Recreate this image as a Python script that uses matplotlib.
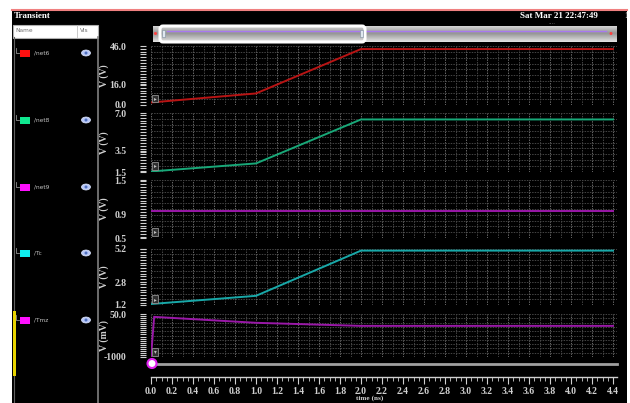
import numpy as np
import matplotlib
matplotlib.use("Agg")
import matplotlib.pyplot as plt
from matplotlib.patches import Rectangle, Ellipse, FancyBboxPatch, Circle
from matplotlib.ticker import MultipleLocator, FixedLocator, FixedFormatter

# ---------------- data ----------------
time_ns = [0.0, 1.0, 2.0, 4.4]
net6 = [1.6, 8.7, 43.6, 43.6]
net8 = [1.55, 2.3, 6.4, 6.4]
net9 = [0.97, 0.97, 0.97, 0.97]
tc = [1.27, 1.85, 5.05, 5.05]
tmz_time = [0.0, 0.03, 1.0, 2.0, 4.4]
tmz = [-1000, -20, -165, -240, -240]

signal_names = ["/net6", "/net8", "/net9", "/Tc", "/Tmz"]
legend_colors = ["#ff1010", "#10e890", "#ff10ff", "#10f0f0", "#ff10ff"]
line_colors = ["#b81414", "#18a878", "#9a18a8", "#18a8a8", "#9a18a8"]
y_units = ["V (V)", "V (V)", "V (V)", "V (V)", "V (mV)"]
y_limits = [(0.0, 46.0), (1.5, 7.0), (0.5, 1.5), (1.2, 5.2), (-1000.0, 50.0)]
y_ticks = [[0.0, 16.0, 46.0], [1.5, 3.5, 7.0], [0.5, 0.9, 1.5], [1.2, 2.8, 5.2], [-1000.0, 50.0]]
y_ticklabels = [["0.0", "16.0", "46.0"], ["1.5", "3.5", "7.0"], ["0.5", "0.9", "1.5"],
                ["1.2", "2.8", "5.2"], ["-1000", "50.0"]]
x_ticks = [round(0.2 * i, 1) for i in range(23)]
x_ticklabels = ["%.1f" % v for v in x_ticks]
series_x = [time_ns, time_ns, time_ns, time_ns, tmz_time]
series_y = [net6, net8, net9, tc, tmz]

W, H = 630, 403
fig = plt.figure(figsize=(W / 100, H / 100), dpi=100, facecolor="white")

SERIF = ["Liberation Serif", "DejaVu Serif"]
TXT = "#d0d0d0"

# background axes in pixel coordinates
bg = fig.add_axes([0, 0, 1, 1])
bg.set_xlim(0, W)
bg.set_ylim(H, 0)
bg.axis("off")

bg.add_patch(Rectangle((12, 10), 615, 393, facecolor="black", edgecolor="none"))
bg.plot([12, 627], [9.5, 9.5], color="#f08080", lw=1.5)
bg.text(14, 16.5, "Transient", color="white", fontsize=6.5, fontweight="bold",
        family=SERIF, va="center", ha="left")
bg.text(520, 16.5, "Sat Mar 21 22:47:49", color="white", fontsize=6.5, fontweight="bold",
        family=SERIF, va="center", ha="left")
bg.text(548, 22.5, "....", color="#909090", fontsize=4, va="center", ha="left")
bg.text(624, 16.5, "1", color="white", fontsize=6.5, fontweight="bold",
        family=SERIF, va="center", ha="left")

# legend panel
bg.add_patch(Rectangle((13, 24.5), 85, 13, facecolor="white", edgecolor="#b0b0b0", lw=0.8))
bg.plot([77, 77], [25, 37], color="#c0c0c0", lw=0.6)
bg.text(15, 31, "Name", color="#707070", fontsize=4.2, va="center", ha="left")
bg.text(80, 31, "Vis", color="#707070", fontsize=4.2, va="center", ha="left")
bg.plot([13.5, 13.5], [37, 403], color="#606060", lw=0.8)
bg.plot([98, 98], [37, 403], color="#808080", lw=1.2)
bg.add_patch(Rectangle((12.5, 311), 3, 65, facecolor="#e8d400", edgecolor="none", zorder=5))

legend_rows = [53, 120, 187, 253, 320]
for name, col, yy in zip(signal_names, legend_colors, legend_rows):
    bg.plot([16, 16, 19], [yy - 5, yy, yy], color="#909090", lw=0.6)
    bg.add_patch(Rectangle((20, yy - 3.5), 10, 7, facecolor=col, edgecolor="none"))
    bg.text(34, yy, name, color="#c0c0c0", fontsize=4.2, va="center", ha="left")
    bg.add_patch(Ellipse((86, yy), 9, 6, facecolor="#b8c8f8", edgecolor="#e0e8ff", lw=0.5))
    bg.add_patch(Ellipse((86, yy), 3, 3, facecolor="#5070c0", edgecolor="none"))

# top scrollbar
grad = np.linspace(0, 1, 32)
shade = np.clip(0.58 + 0.35 * np.abs(grad - 0.45) * 1.6, 0, 1)
img = np.repeat(shade[:, None], 2, axis=1)
bg.imshow(img, cmap="gray", vmin=0, vmax=1, extent=[153, 617, 42, 26],
          aspect="auto", zorder=1, interpolation="bilinear")
bg.add_patch(FancyBboxPatch((160, 26), 205, 16, boxstyle="round,pad=0,rounding_size=3",
                            facecolor="none", edgecolor="white", lw=2.2, zorder=3))
bg.plot([167, 606], [30.5, 30.5], color="#a878f0", lw=1.0, zorder=2)
bg.add_patch(Circle((155.5, 33.5), 1.5, facecolor="#ff4040", edgecolor="none", zorder=4))
bg.add_patch(Circle((611, 33.5), 1.5, facecolor="#ff4040", edgecolor="none", zorder=4))
bg.add_patch(Rectangle((162, 30), 2.5, 7, facecolor="#e0e8f0", edgecolor="#8090a0", lw=0.4, zorder=4))
bg.add_patch(Rectangle((360, 30), 2.5, 7, facecolor="#e0e8f0", edgecolor="#8090a0", lw=0.4, zorder=4))

# bottom scroll line with circle marker
bg.plot([152, 617], [363.5, 363.5], color="#a0a0a0", lw=2.0)
bg.add_patch(Circle((152, 363.5), 4.5, facecolor="white", edgecolor="#e020f0", lw=1.5, zorder=6))
bg.text(370, 398.5, "time (ns)", color=TXT, fontsize=5.2, fontweight="bold",
        family=SERIF, va="center", ha="center")


def rect(x0, y0, x1, y1):
    return [x0 / W, 1 - y1 / H, (x1 - x0) / W, (y1 - y0) / H]


panel_px = [(46, 104.5), (113, 172), (180, 238), (248.5, 305), (314, 357)]
XMAX = (617 - 151) / 105.0

for i in range(5):
    y0, y1 = panel_px[i]
    ax = fig.add_axes(rect(151, y0, 617, y1))
    ax.set_facecolor("black")
    lo, hi = y_limits[i]
    ax.set_xlim(0, XMAX)
    ax.set_ylim(lo, hi)
    # grid
    for xv in np.arange(0, XMAX, 0.1):
        major = abs((xv / 0.2) - round(xv / 0.2)) < 1e-6
        ax.axvline(xv, color="#686868" if major else "#454545", lw=0.7,
                   ls=(0, (1.5, 1.2)), zorder=1)
    for yv in np.linspace(lo, hi, 11):
        ax.axhline(yv, color="#454545", lw=0.7, ls=(0, (1.5, 1.2)), zorder=1)
    ax.plot(series_x[i], series_y[i], color=line_colors[i], lw=1.4, zorder=3,
            solid_joinstyle="miter")
    for s in ["top", "right", "bottom"]:
        ax.spines[s].set_visible(False)
    ax.spines["left"].set_position(("outward", 8))
    ax.spines["left"].set_visible(False)
    ax.xaxis.set_visible(False)
    ax.yaxis.set_major_locator(FixedLocator(y_ticks[i]))
    ax.yaxis.set_major_formatter(FixedFormatter(y_ticklabels[i]))
    ax.yaxis.set_minor_locator(MultipleLocator((hi - lo) / 21.0))
    ax.tick_params(axis="y", which="both", direction="in", length=4, width=0.8,
                   color="#d0d0d0", pad=9.5, labelsize=7, labelcolor=TXT)
    for lab in ax.get_yticklabels():
        lab.set_family(SERIF)
        lab.set_fontweight("bold")
    ax.set_ylabel(y_units[i], color=TXT, fontsize=7, fontweight="bold",
                  family=SERIF, labelpad=3)
    ax.yaxis.set_label_coords(-0.09, 0.5)
    # small marker box
    ax.text(0.006, 0.06, "\u25b8" if i < 4 else "\u25be", transform=ax.transAxes,
            color="#c0c0c0", fontsize=4, va="bottom", ha="left", zorder=5,
            bbox=dict(boxstyle="square,pad=0.25", facecolor="#303030",
                      edgecolor="#909090", lw=0.6))

# time ruler
axr = fig.add_axes(rect(151, 377, 617, 383))
axr.set_facecolor("none")
axr.set_xlim(0, XMAX)
axr.set_ylim(0, 1)
axr.yaxis.set_visible(False)
for s in ["left", "right", "bottom"]:
    axr.spines[s].set_visible(False)
axr.spines["top"].set_color("#d0d0d0")
axr.spines["top"].set_linewidth(1.0)
axr.set_xticks(x_ticks)
axr.set_xticklabels(x_ticklabels)
axr.xaxis.set_minor_locator(MultipleLocator(0.05))
axr.tick_params(axis="x", which="major", top=True, bottom=False, labeltop=False,
                labelbottom=True, direction="in", length=5, width=0.8,
                color="#d0d0d0", labelsize=7, labelcolor=TXT, pad=3)
axr.tick_params(axis="x", which="minor", top=True, bottom=False, direction="in",
                length=3, width=0.6, color="#d0d0d0")
for lab in axr.get_xticklabels():
    lab.set_family(SERIF)
    lab.set_fontweight("bold")

fig.savefig("out.png", dpi=100, facecolor="white")
